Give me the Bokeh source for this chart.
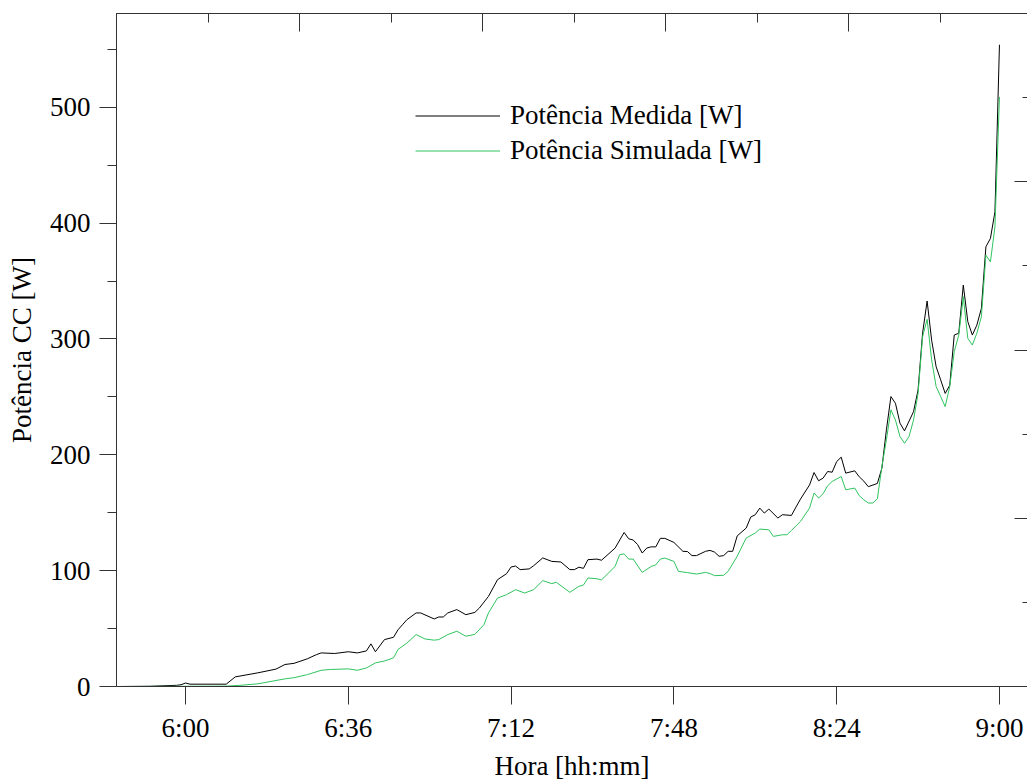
from bokeh.plotting import figure
from bokeh.models import Range1d, LinearAxis, FixedTicker, SingleIntervalTicker, Title, CustomJSTickFormatter
from bokeh.embed import file_html
from bokeh.resources import INLINE

# Time of day in minutes after midnight, DC power in W
t_medida = [345, 352, 358, 359, 360, 361, 369, 371, 376, 380, 382, 384, 387, 389, 390,
            393, 396, 398, 400, 401, 402, 404, 406, 407, 408, 409, 411, 412, 415, 416,
            417, 418, 420, 422, 424, 425, 427, 429, 431, 432, 433, 434, 436, 437, 439,
            441, 443, 445, 446, 447, 448, 449, 451, 452, 455, 457, 458, 459, 460, 461,
            462, 463, 464, 465, 466, 468, 470, 471, 472, 473, 475, 476, 477, 478, 479,
            480, 481, 482, 484, 485, 486, 487, 488, 489, 491, 492, 494, 495, 496, 498,
            499, 500, 501, 502, 503, 504, 505, 506, 508, 509, 510, 511, 513, 514, 515,
            516, 517, 518, 519, 521, 522, 523, 524, 525, 526, 527, 528, 529, 530, 531,
            532, 533, 534, 535, 536, 537, 538, 539, 540]
p_medida = [0.0, 0.2, 1.0, 1.5, 3.0, 2.0, 2.0, 8.3, 11.8, 15.0, 19.0, 20.0, 24.0, 27.6, 29.0,
            28.5, 30.0, 29.0, 30.7, 36.8, 30.0, 40.5, 42.5, 49.0, 53.4, 57.8, 63.5, 63.5, 58.3, 60.0,
            60.0, 63.5, 66.4, 62.0, 64.0, 67.8, 77.8, 92.2, 97.4, 103.2, 104.0, 100.9, 101.5, 104.3, 111.0,
            108.0, 107.5, 100.9, 100.9, 103.0, 102.0, 109.5, 110.0, 109.0, 119.5, 133.0, 127.5, 126.5, 122.4, 115.2,
            119.5, 120.6, 120.5, 127.9, 127.9, 124.4, 116.7, 116.5, 113.0, 113.0, 116.7, 117.5, 116.0, 112.4, 113.0,
            116.7, 116.7, 130.0, 136.8, 146.3, 148.3, 154.0, 149.7, 153.2, 145.4, 148.3, 147.7, 154.9, 161.8, 174.0,
            184.7, 177.6, 179.9, 185.6, 185.0, 194.2, 198.0, 184.2, 186.2, 181.0, 177.3, 172.5, 175.3, 188.5, 221.6,
            250.3, 244.5, 227.3, 220.7, 237.3, 256.0, 305.0, 332.8, 299.0, 276.0, 264.7, 253.0, 260.0, 303.4, 305.0,
            346.6, 315.0, 303.4, 312.0, 326.4, 379.6, 386.8, 409.7, 554.0]

t_simulada = [345, 369, 372, 376, 382, 384, 387, 390, 392, 396, 398, 400, 402, 404, 406,
              407, 409, 411, 413, 415, 416, 418, 420, 422, 424, 426, 427, 429, 431, 433,
              435, 437, 439, 441, 442, 445, 447, 448, 449, 451, 452, 455, 456, 457, 458,
              459, 461, 463, 464, 465, 466, 468, 469, 471, 473, 475, 476, 477, 479, 480,
              482, 483, 484, 486, 487, 489, 490, 492, 493, 494, 496, 498, 499, 500, 501,
              502, 503, 505, 506, 508, 509, 510, 511, 512, 513, 514, 515, 516, 517, 518,
              519, 520, 521, 522, 523, 524, 525, 526, 527, 528, 529, 530, 531, 532, 533,
              534, 535, 536, 537, 538, 539, 540]
p_simulada = [0.0, 0.3, 1.0, 2.3, 6.6, 7.6, 10.3, 14.0, 14.7, 15.2, 14.0, 16.0, 20.4, 22.0, 24.7,
              32.0, 37.6, 44.8, 41.0, 40.0, 40.5, 44.8, 47.7, 43.4, 45.0, 53.4, 63.5, 76.4, 79.3, 83.6,
              80.7, 83.6, 91.4, 88.8, 90.0, 81.3, 86.5, 87.6, 93.7, 93.0, 92.0, 103.7, 113.8, 114.5, 110.0,
              110.0, 98.5, 103.7, 105.0, 110.0, 110.9, 108.0, 99.4, 98.3, 97.1, 98.5, 97.5, 95.7, 96.0, 99.4,
              112.4, 120.4, 128.2, 132.5, 135.9, 135.3, 129.6, 131.0, 131.0, 134.7, 142.5, 154.0, 167.0, 162.7, 166.4,
              173.3, 177.0, 181.3, 169.8, 171.3, 164.7, 161.2, 158.4, 158.4, 162.0, 190.0, 213.0, 238.8, 230.0, 215.8,
              210.0, 215.8, 230.0, 253.0, 302.0, 317.0, 282.0, 258.9, 250.3, 241.6, 258.9, 289.0, 303.4, 336.5, 300.6,
              294.8, 305.0, 319.2, 372.4, 366.6, 396.8, 509.0]

hora_ticks = [360, 396, 432, 468, 504, 540]
hora_labels = ["6:00", "6:36", "7:12", "7:48", "8:24", "9:00"]

FONT = "Liberation Serif"
FS = "27px"
AXIS_COLOR = "#333333"

p = figure(width=1027, height=783, output_backend="svg", toolbar_location=None,
           x_range=Range1d(344.74, 546.2), y_range=Range1d(0, 581),
           x_axis_location=None, y_axis_location=None,
           min_border_left=116, min_border_right=0, min_border_top=13, min_border_bottom=96)
p.outline_line_color = None
p.background_fill_color = "white"
p.border_fill_color = "white"
p.grid.visible = False

p.extra_x_ranges = {"top": Range1d(0, 4.978)}
p.extra_y_ranges = {"right": Range1d(0, 4)}


def style(ax, tick_in, tick_out, minor_in, minor_out):
    ax.axis_line_color = AXIS_COLOR
    ax.major_tick_line_color = AXIS_COLOR
    ax.minor_tick_line_color = AXIS_COLOR
    ax.major_tick_in = tick_in
    ax.major_tick_out = tick_out
    ax.minor_tick_in = minor_in
    ax.minor_tick_out = minor_out
    ax.major_label_text_font = FONT
    ax.major_label_text_font_size = FS
    ax.major_label_text_color = "black"
    ax.axis_label_text_font = FONT
    ax.axis_label_text_font_size = FS
    ax.axis_label_text_font_style = "normal"
    ax.axis_label_text_color = "black"


def unlabeled(ax):
    # frame-edge axis: ticks only
    ax.formatter = CustomJSTickFormatter(code="return ''")
    ax.major_label_text_font_size = "1px"
    ax.major_label_standoff = 0


# bottom: time of day
xb = LinearAxis(ticker=FixedTicker(ticks=hora_ticks, minor_ticks=[]),
                major_label_overrides=dict(zip(hora_ticks, hora_labels)))
style(xb, 0, 18, 0, 0)
xb.major_label_standoff = 8
p.add_layout(xb, "below")

xlabel = Title(text="Hora [hh:mm]", align="center", text_font=FONT, text_font_size=FS,
               text_font_style="normal", text_color="black", standoff=6)
p.add_layout(xlabel, "below")

# left: DC power
yl = LinearAxis(ticker=SingleIntervalTicker(interval=100, num_minor_ticks=2),
                axis_label="Potência CC [W]")
style(yl, 0, 17, 0, 9)
yl.major_label_standoff = 9
yl.axis_label_standoff = 10
p.add_layout(yl, "left")

# top frame edge with inward ticks
xt = LinearAxis(x_range_name="top", ticker=SingleIntervalTicker(interval=1, num_minor_ticks=2))
style(xt, 18, 0, 9, 0)
unlabeled(xt)
p.add_layout(xt, "above")

# right side: inward ticks only
yr = LinearAxis(y_range_name="right", ticker=SingleIntervalTicker(interval=1, num_minor_ticks=2))
style(yr, 13, 0, 5, 0)
yr.axis_line_color = None
unlabeled(yr)
p.add_layout(yr, "right")

p.line(t_medida, p_medida, line_color="black", line_width=1, legend_label="Potência Medida [W]")
p.line(t_simulada, p_simulada, line_color="#2fc45e", line_width=1, legend_label="Potência Simulada [W]")

lg = p.legend[0]
lg.location = (299, 518)
lg.border_line_color = None
lg.background_fill_alpha = 0
lg.padding = 0
lg.margin = 0
lg.spacing = 0
lg.glyph_width = 85
lg.glyph_height = 35
lg.label_height = 35
lg.label_standoff = 10
lg.label_text_font = FONT
lg.label_text_font_size = FS
lg.label_text_color = "black"

open("out.html", "w").write(file_html(p, INLINE))
